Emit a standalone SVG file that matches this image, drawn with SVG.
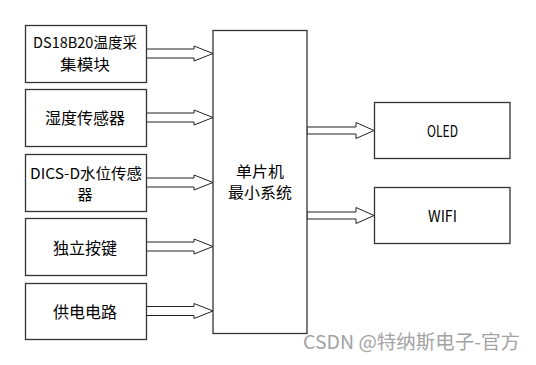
<svg xmlns="http://www.w3.org/2000/svg" width="536" height="365" viewBox="0 0 536 365">
<style>
.box{fill:#fff;stroke:#333;stroke-width:1.3}
.arr{fill:#fff;stroke:#222;stroke-width:1}
.t{font-family:"Noto Sans CJK SC","Liberation Sans",sans-serif;font-size:16px;fill:#000;text-anchor:middle}
.t2{font-family:"Noto Sans CJK SC","Liberation Sans",sans-serif;font-size:15px;fill:#000;text-anchor:middle}
.wm{font-family:"Noto Sans CJK SC","Liberation Sans",sans-serif;font-size:19px;fill:#a3a3a3}
</style>
<rect width="536" height="365" fill="#fff"/>
<g id="connectors">
<polygon class="arr" points="146,49 194,49 194,46 213,53.5 194,61 194,58 146,58"/>
<polygon class="arr" points="146,113 194,113 194,110 213,117.5 194,125 194,122 146,122"/>
<polygon class="arr" points="146,178 194,178 194,175 213,182.5 194,190 194,187 146,187"/>
<polygon class="arr" points="146,242 194,242 194,239 213,246.5 194,254 194,251 146,251"/>
<polygon class="arr" points="146,306.5 194,306.5 194,303.5 213,311 194,318.5 194,315.5 146,315.5"/>
<polygon class="arr" points="307,127 356,127 356,122.5 374,130.5 356,138.5 356,134 307,134"/>
<polygon class="arr" points="307,212 356,212 356,207.5 374,215.5 356,223.5 356,219 307,219"/>
</g>
<g id="node-ds18b20">
<rect class="box" x="25.5" y="25.5" width="121" height="57"/>
<text class="t2" x="85" y="48" textLength="104" lengthAdjust="spacingAndGlyphs">DS18B20温度采</text>
<text class="t2" x="85" y="69.5" textLength="50" lengthAdjust="spacingAndGlyphs">集模块</text>
</g>
<g id="node-humidity">
<rect class="box" x="25.5" y="89.5" width="121" height="57"/>
<text class="t" x="85" y="123.5">湿度传感器</text>
</g>
<g id="node-water">
<rect class="box" x="25.5" y="154.5" width="121" height="57"/>
<text class="t2" x="86" y="178.5" textLength="112" lengthAdjust="spacingAndGlyphs">DICS-D水位传感</text>
<text class="t2" x="85" y="200">器</text>
</g>
<g id="node-keys">
<rect class="box" x="25.5" y="218.5" width="121" height="57"/>
<text class="t" x="85" y="253.5">独立按键</text>
</g>
<g id="node-power">
<rect class="box" x="25.5" y="283.5" width="121" height="56"/>
<text class="t" x="85" y="317.5">供电电路</text>
</g>
<g id="node-mcu">
<rect class="box" x="213" y="30.5" width="94" height="303"/>
<text class="t2" x="260" y="176.5" textLength="48" lengthAdjust="spacingAndGlyphs">单片机</text>
<text class="t2" x="260" y="198" textLength="64" lengthAdjust="spacingAndGlyphs">最小系统</text>
</g>
<g id="node-oled">
<rect class="box" x="374.5" y="102.5" width="135.5" height="56"/>
<text class="t" x="442.5" y="137" textLength="31" lengthAdjust="spacingAndGlyphs">OLED</text>
</g>
<g id="node-wifi">
<rect class="box" x="374.5" y="187.5" width="135.5" height="56"/>
<text class="t" x="442.5" y="221.5" textLength="29" lengthAdjust="spacingAndGlyphs">WIFI</text>
</g>
<text class="wm" x="303" y="349" textLength="217" lengthAdjust="spacingAndGlyphs">CSDN @特纳斯电子-官方</text>
</svg>
